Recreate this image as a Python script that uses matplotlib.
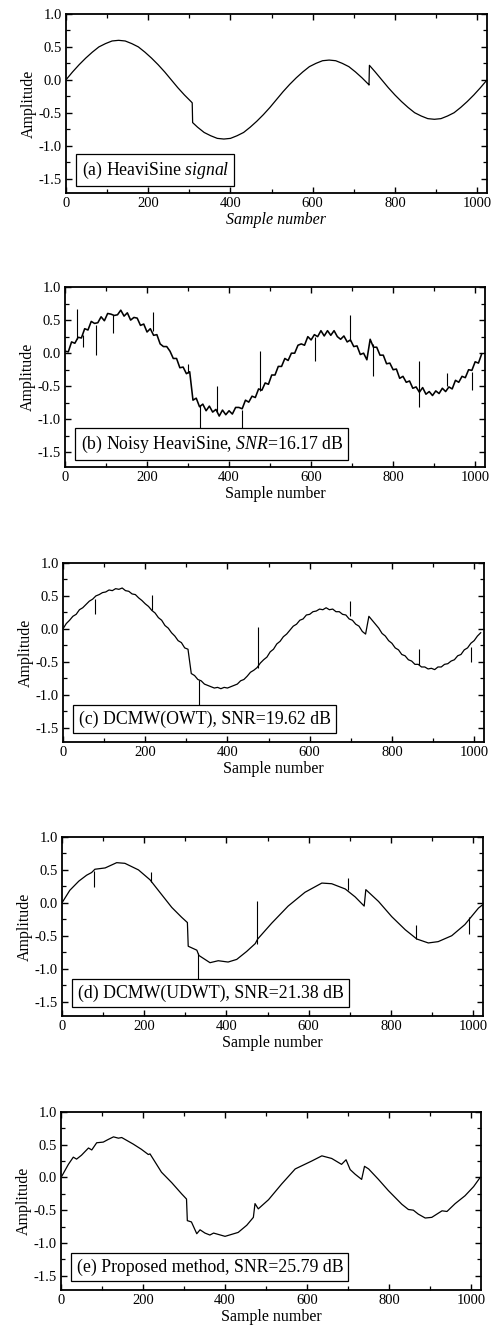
#---------------------------------------------------------------
#  HeaviSine denoising figure - five stacked panels
#---------------------------------------------------------------
import numpy as np
import matplotlib
matplotlib.use('Agg')
import matplotlib.pyplot as plt
from matplotlib.ticker import MultipleLocator
import matplotlib.transforms as mtransforms

plt.rcParams['font.family'] = ['Liberation Serif', 'DejaVu Serif']
plt.rcParams['mathtext.fontset'] = 'custom'
plt.rcParams['mathtext.rm'] = 'Liberation Serif'
plt.rcParams['mathtext.it'] = 'Liberation Serif:italic'

# ---------------- dados ----------------
# (a) sinal HeaviSine original
xa = [0, 16, 32, 48, 64, 80, 96, 112, 128, 144, 160, 176, 192, 208, 224, 240, 256, 272, 288, 304,
      307, 308,
      320, 336, 352, 368, 384, 400, 416, 432, 448, 464, 480, 496, 512, 528, 544, 560, 576, 592,
      608, 624, 640, 656, 672, 688, 704, 720, 736,
      737, 738,
      752, 768, 784, 800, 816, 832, 848, 864, 880, 896, 912, 928, 944, 960, 976, 992, 1008, 1023]
ya = [0.0, 0.12, 0.23, 0.33, 0.42, 0.50, 0.55, 0.59, 0.60, 0.59, 0.55, 0.50, 0.42, 0.33, 0.23, 0.12,
      0.0, -0.12, -0.23, -0.33,
      -0.35, -0.65,
      -0.72, -0.80, -0.85, -0.89, -0.90, -0.89, -0.85, -0.80, -0.72, -0.63, -0.53, -0.42, -0.30,
      -0.18, -0.07, 0.03, 0.12, 0.20, 0.25, 0.29, 0.30, 0.29, 0.25, 0.20, 0.12, 0.03, -0.07,
      -0.08, 0.22,
      0.12, 0.0, -0.12, -0.23, -0.33, -0.42, -0.50, -0.55, -0.59, -0.60, -0.59, -0.55, -0.50,
      -0.42, -0.33, -0.23, -0.12, -0.01]

# (b) sinal ruidoso, amostrado a cada 8 amostras
xb = np.arange(0, 1024, 8)
yb = [0.03, 0.02, 0.17, 0.15, 0.24, 0.23, 0.37, 0.35, 0.48, 0.45, 0.46, 0.55, 0.49, 0.60, 0.59, 0.57,
      0.58, 0.65, 0.56, 0.61, 0.50, 0.54, 0.53, 0.42, 0.44, 0.32, 0.37, 0.27, 0.28, 0.14, 0.10, 0.10,
      0.03, -0.08, -0.08, -0.22, -0.21, -0.31, -0.28, -0.71, -0.68, -0.81, -0.77, -0.87, -0.80, -0.89, -0.85, -0.95,
      -0.86, -0.93, -0.87, -0.92, -0.82, -0.82, -0.84, -0.71, -0.74, -0.65, -0.67, -0.54, -0.56, -0.45, -0.47, -0.33,
      -0.33, -0.20, -0.20, -0.08, -0.11, 0.00, 0.00, 0.12, 0.14, 0.12, 0.25, 0.20, 0.28, 0.25, 0.34, 0.26,
      0.34, 0.27, 0.34, 0.25, 0.21, 0.26, 0.17, 0.20, 0.10, 0.11, -0.02, 0.00, -0.10, 0.21, 0.09, 0.09,
      -0.03, -0.03, -0.16, -0.15, -0.25, -0.24, -0.38, -0.35, -0.44, -0.42, -0.53, -0.51, -0.59, -0.52, -0.62, -0.58,
      -0.64, -0.57, -0.61, -0.53, -0.58, -0.51, -0.54, -0.41, -0.44, -0.35, -0.37, -0.25, -0.26, -0.13, -0.15, -0.01]
spk_b_x = [30, 43, 75, 118, 215, 300, 329, 370, 432, 476, 610, 695, 750, 864, 931, 992]
spk_b_lo = [0.22, 0.10, -0.02, 0.31, 0.33, -0.30, -1.17, -0.89, -1.17, -0.57, -0.12, 0.18, -0.35, -0.82, -0.49, -0.55]
spk_b_hi = [0.67, 0.28, 0.42, 0.57, 0.62, -0.17, -0.78, -0.49, -0.86, 0.03, 0.25, 0.58, 0.14, -0.12, -0.30, -0.28]

# (c) DCMW(OWT)
xc = np.arange(0, 1024, 8)
yc = [0.00, 0.08, 0.13, 0.19, 0.22, 0.29, 0.32, 0.37, 0.42, 0.45, 0.50, 0.52, 0.55, 0.56, 0.59, 0.58,
      0.61, 0.60, 0.62, 0.58, 0.57, 0.53, 0.52, 0.47, 0.43, 0.38, 0.34, 0.28, 0.24, 0.17, 0.13, 0.05,
      0.01, -0.06, -0.11, -0.18, -0.21, -0.29, -0.31, -0.68, -0.71, -0.77, -0.79, -0.84, -0.86, -0.88, -0.90, -0.89,
      -0.91, -0.89, -0.90, -0.88, -0.86, -0.84, -0.79, -0.77, -0.72, -0.66, -0.63, -0.59, -0.52, -0.47, -0.43, -0.35,
      -0.31, -0.23, -0.19, -0.12, -0.08, -0.02, 0.04, 0.07, 0.13, 0.15, 0.21, 0.22, 0.26, 0.27, 0.30, 0.29,
      0.32, 0.29, 0.30, 0.26, 0.26, 0.22, 0.21, 0.15, 0.13, 0.07, 0.04, -0.04, -0.08, 0.19, 0.13, 0.07,
      0.01, -0.07, -0.11, -0.18, -0.22, -0.29, -0.32, -0.39, -0.41, -0.47, -0.49, -0.54, -0.54, -0.58, -0.58, -0.61,
      -0.60, -0.62, -0.58, -0.58, -0.54, -0.53, -0.49, -0.47, -0.41, -0.39, -0.32, -0.29, -0.22, -0.18, -0.11, -0.06]
spk_c_x = [78, 216, 332, 475, 697, 865, 992]
spk_c_lo = [0.22, 0.28, -1.18, -0.60, 0.20, -0.55, -0.50]
spk_c_hi = [0.45, 0.51, -0.78, 0.02, 0.42, -0.30, -0.27]

# (d) DCMW(UDWT)
xd = [0, 19, 41, 60, 72, 80, 105, 133, 153, 186, 214, 243, 267, 291, 305, 307, 328, 333, 360,
      380, 404, 425, 449, 470, 476, 510, 550, 591, 632, 656, 689, 713, 735, 739, 770, 802, 835,
      863, 891, 915, 948, 980, 1013, 1023]
yd = [0.00, 0.19, 0.33, 0.42, 0.46, 0.51, 0.53, 0.61, 0.60, 0.50, 0.35, 0.12, -0.07, -0.22, -0.30,
      -0.66, -0.72, -0.80, -0.91, -0.88, -0.90, -0.86, -0.74, -0.62, -0.55, -0.31, -0.05, 0.16,
      0.30, 0.29, 0.21, 0.09, -0.05, 0.20, 0.02, -0.21, -0.41, -0.55, -0.61, -0.59, -0.50, -0.33,
      -0.08, -0.03]
spk_d_x = [79, 217, 332, 474, 695, 861, 990]
spk_d_lo = [0.24, 0.32, -1.16, -0.62, 0.20, -0.55, -0.47]
spk_d_hi = [0.49, 0.47, -0.76, 0.02, 0.37, -0.34, -0.22]

# (e) metodo proposto
xe = [2, 18, 30, 38, 50, 67, 75, 87, 103, 115, 128, 140, 148, 176, 196, 213, 217, 245, 270, 294,
      306, 308, 318, 331, 339, 351, 363, 372, 400, 432, 453, 469, 473, 481, 506, 538, 571, 591,
      611, 636, 660, 684, 695, 705, 717, 733, 740, 750, 774, 798, 831, 847, 859, 871, 888, 904,
      929, 941, 961, 985, 1006, 1022]
ye = [0.02, 0.20, 0.31, 0.28, 0.34, 0.45, 0.42, 0.53, 0.54, 0.58, 0.62, 0.60, 0.61, 0.51, 0.43,
      0.35, 0.36, 0.08, -0.08, -0.25, -0.33, -0.66, -0.68, -0.86, -0.80, -0.85, -0.88, -0.85,
      -0.90, -0.84, -0.73, -0.61, -0.40, -0.48, -0.34, -0.10, 0.13, 0.19, 0.25, 0.33, 0.29, 0.20,
      0.27, 0.12, 0.05, -0.03, 0.17, 0.13, -0.03, -0.20, -0.41, -0.49, -0.50, -0.56, -0.62, -0.61,
      -0.51, -0.52, -0.40, -0.28, -0.14, 0.00]

rotulos = [r"(a) HeaviSine $\mathit{signal}$",
           r"(b) Noisy HeaviSine, $\mathit{SNR}$=16.17 dB",
           "(c) DCMW(OWT), SNR=19.62 dB",
           "(d) DCMW(UDWT), SNR=21.38 dB",
           "(e) Proposed method, SNR=25.79 dB"]

# posicao dos eixos em pixels: esquerda, topo, direita, base
W, H = 497, 1331
caixas = [(66, 14, 487, 193),
          (65, 287, 485, 467),
          (63, 563, 484, 742),
          (62, 837, 483, 1016),
          (61, 1112, 481, 1290)]


def plota_painel(fig, caixa, x, y, rotulo, spk_x=None, spk_lo=None, spk_hi=None,
                 italico=False, lw=0.9):
    l, t, r, b = caixa
    ax = fig.add_axes([l / W, 1 - b / H, (r - l) / W, (b - t) / H])
    ax.plot(x, y, color='black', lw=lw)
    if spk_x is not None:
        ax.vlines(spk_x, spk_lo, spk_hi, color='black', lw=0.8)

    ax.set_xlim(0, 1024)
    ax.set_ylim(-1.72, 1.0)
    ax.xaxis.set_major_locator(MultipleLocator(200))
    ax.xaxis.set_minor_locator(MultipleLocator(100))
    ax.yaxis.set_major_locator(MultipleLocator(0.5))
    ax.yaxis.set_minor_locator(MultipleLocator(0.25))
    ax.yaxis.set_major_formatter(plt.FuncFormatter(lambda v, p: "%.1f" % v))
    ax.tick_params(which='both', direction='in', top=True, right=True, labelsize=10.5, pad=3)
    ax.tick_params(which='major', length=4.5, width=1.0)
    ax.tick_params(which='minor', length=3, width=0.9)
    for s in ax.spines.values():
        s.set_linewidth(1.3)

    ax.set_xlabel("Sample number", fontsize=11.5, labelpad=1,
                  style='italic' if italico else 'normal')
    ax.set_ylabel("Amplitude", fontsize=11.5, labelpad=1)

    trans = mtransforms.blended_transform_factory(ax.transAxes, ax.transData)
    ax.text(0.037, -1.375, rotulo, transform=trans, fontsize=12.8, ha='left', va='center',
            bbox=dict(boxstyle='square,pad=0.3', fc='white', ec='black', lw=0.9))
    return ax


fig = plt.figure(figsize=(W / 100, H / 100), dpi=100)

plota_painel(fig, caixas[0], xa, ya, rotulos[0], italico=True)
plota_painel(fig, caixas[1], xb, yb, rotulos[1], spk_b_x, spk_b_lo, spk_b_hi, lw=1.15)
plota_painel(fig, caixas[2], xc, yc, rotulos[2], spk_c_x, spk_c_lo, spk_c_hi)
plota_painel(fig, caixas[3], xd, yd, rotulos[3], spk_d_x, spk_d_lo, spk_d_hi)
plota_painel(fig, caixas[4], xe, ye, rotulos[4])

fig.savefig("out.png", dpi=100)
